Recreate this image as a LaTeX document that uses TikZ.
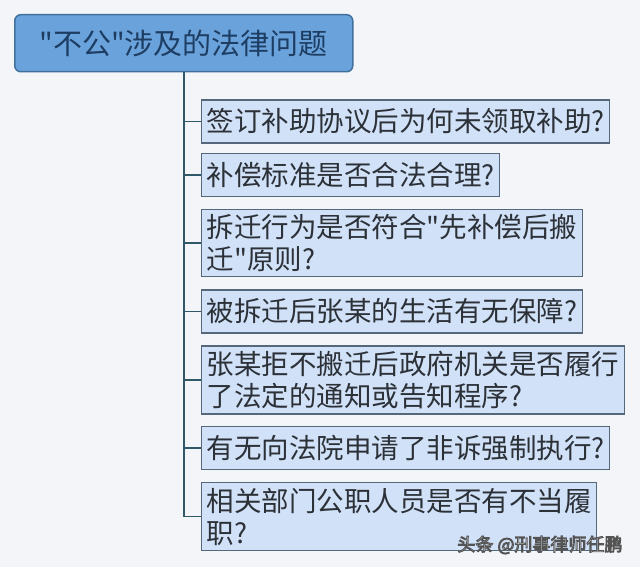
\documentclass[tikz,border=0pt]{standalone}
\usepackage{fontspec}
\setmainfont{Noto Sans CJK SC}[Ligatures=TeXOff]
\definecolor{bgcol}{HTML}{F3F5F9}
\definecolor{rootfill}{HTML}{6AA3DC}
\definecolor{rootline}{HTML}{41709C}
\definecolor{roottext}{HTML}{1E3D63}
\definecolor{qfill}{HTML}{D1E1F7}
\definecolor{qline}{HTML}{55677A}
\definecolor{qtext}{HTML}{2C3138}
\definecolor{trunk}{HTML}{2F5868}
% white letters with a dark rim
\newcommand{\rimtext}[1]{{\color{white}\special{pdf:code q 2 Tr 0.9 w 0.33 0.33 0.33 RG}#1\special{pdf:code Q}}}

\tikzset{
  rootbox/.style={draw=rootline,fill=rootfill,line width=1.5pt,rounded corners=6pt,
    minimum width=338pt,minimum height=57pt,text=roottext,
    font=\fontsize{29}{33}\selectfont},
  qbox/.style={draw=qline,fill=qfill,line width=1.4pt,anchor=west,align=left,
    inner xsep=5pt,inner ysep=5pt,minimum height=43pt,text=qtext,
    font=\fontsize{27.5}{32}\selectfont},
  branch/.style={draw=trunk,line width=1.6pt}
}

\begin{document}
\begin{tikzpicture}[x=1pt,y=-1pt]
\fill[bgcol] (0,0) rectangle (640,567);
\useasboundingbox (0,0) rectangle (640,567);

\node[rootbox,anchor=north west] (root) at (14,14) {"不公"涉及的法律问题};

\node[qbox] (q1) at (201,121.5) {签订补助协议后为何未领取补助?};
\node[qbox] (q2) at (201,175) {补偿标准是否合法合理?};
\node[qbox] (q3) at (201,243) {拆迁行为是否符合"先补偿后搬\\迁"原则?};
\node[qbox] (q4) at (201,311.5) {被拆迁后张某的生活有无保障?};
\node[qbox] (q5) at (201,380) {张某拒不搬迁后政府机关是否履行\\了法定的通知或告知程序?};
\node[qbox] (q6) at (201,448) {有无向法院申请了非诉强制执行?};
\node[qbox] (q7) at (201,516.5) {相关部门公职人员是否有不当履\\职?};

% trunk and branches
\coordinate (tend) at (root.south |- q7.west);
\draw[branch] (root.south) -- (tend);
\foreach \q in {q1,q2,q3,q4,q5,q6,q7}
  \draw[branch] (root.south |- \q.west) -- (\q.west);

\node[anchor=east,font=\fontsize{18}{20}\selectfont] (mark) at (626,545)
  {\rimtext{头条 @刑事律师任鹏}};
\end{tikzpicture}
\end{document}
